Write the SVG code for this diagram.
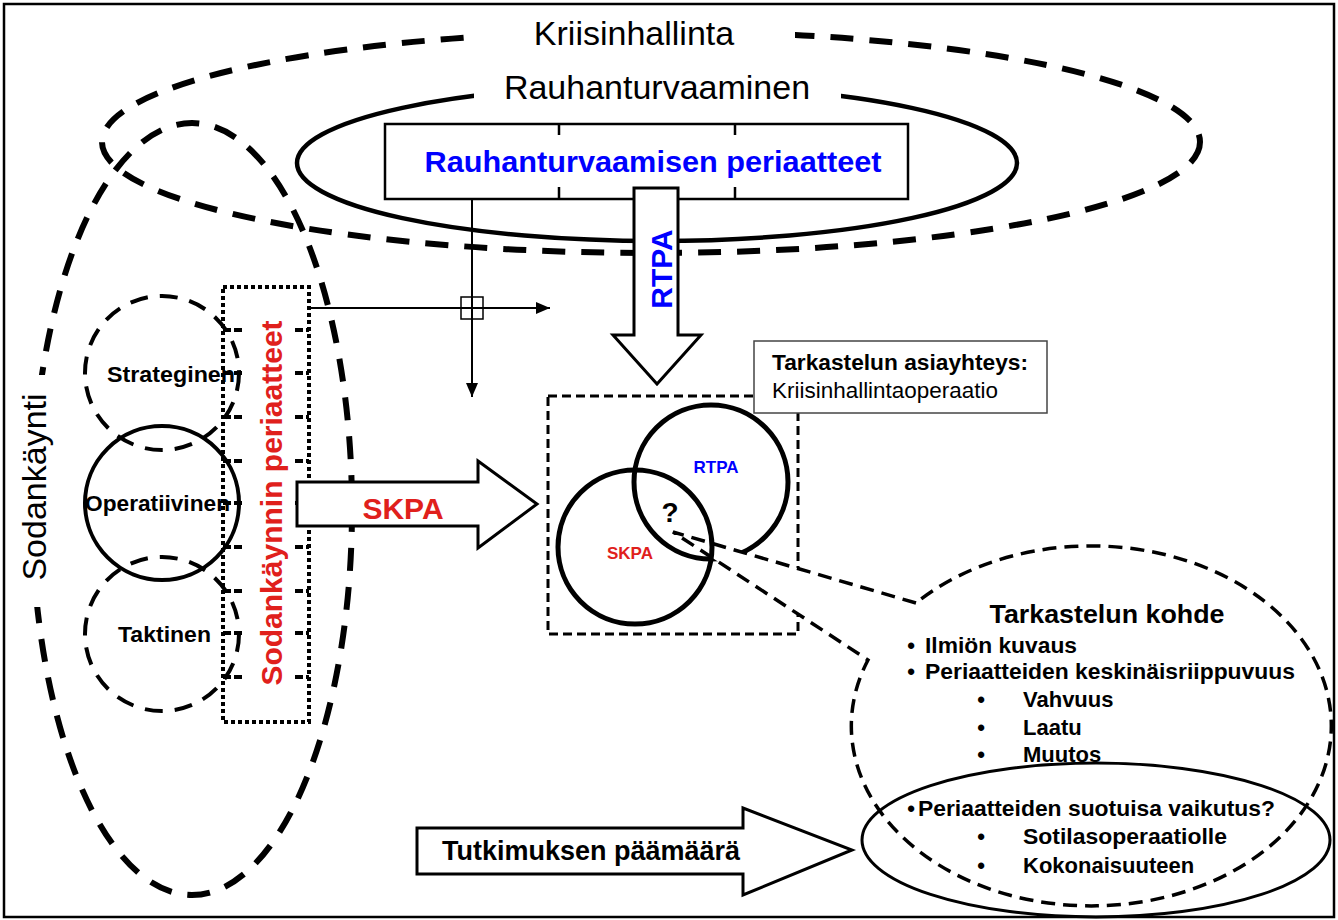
<svg xmlns="http://www.w3.org/2000/svg" width="1338" height="920" viewBox="0 0 1338 920">
<defs>
<style>
.t{font-family:"Liberation Sans",Arial,sans-serif;fill:#000}
.b{font-weight:bold}
.blue{fill:#0000FF}
.red{fill:#E0201C}
.thickdash{fill:none;stroke:#000;stroke-width:6;stroke-dasharray:23 16}
.meddash{fill:none;stroke:#000;stroke-width:4;stroke-dasharray:18 12}
.solid{fill:none;stroke:#000;stroke-width:4.5}
.arrow{fill:#fff;stroke:#000;stroke-width:3;stroke-linejoin:miter}
.thin{fill:none;stroke:#000;stroke-width:2}
.tick{stroke:#000;stroke-width:4;stroke-dasharray:8 3}
</style>
<marker id="ah" markerUnits="userSpaceOnUse" markerWidth="14" markerHeight="12" refX="14" refY="6" orient="auto">
<path d="M0,0 L14,6 L0,12 Z" fill="#000"/>
</marker>
</defs>
<rect x="0" y="0" width="1338" height="920" fill="#fff"/>
<rect x="4" y="4" width="1330" height="913" fill="none" stroke="#000" stroke-width="2.5"/>

<g id="kriisinhallinta">
<ellipse cx="651" cy="142" rx="549" ry="111" class="thickdash"/>
<rect x="472" y="12" width="323" height="42" fill="#fff"/>
<text class="t" x="634" y="45" font-size="34" text-anchor="middle">Kriisinhallinta</text>
</g>

<g id="sodankaynti">
<ellipse cx="192" cy="509" rx="160" ry="386" class="thickdash"/>
<rect x="12" y="375" width="50" height="232" fill="#fff"/>
<text class="t" font-size="34" text-anchor="middle" transform="translate(46,487) rotate(-90)">Sodankäynti</text>
</g>

<g id="rauhanturvaaminen">
<ellipse cx="657" cy="163" rx="360" ry="78" class="solid"/>
<rect x="474" y="68" width="367" height="37" fill="#fff"/>
<text class="t" x="657" y="99" font-size="34" text-anchor="middle">Rauhanturvaaminen</text>
</g>

<g id="rt-periaatteet">
<rect x="385" y="124" width="523" height="75" fill="#fff" stroke="#000" stroke-width="2.5"/>
<path d="M559,124 V135 M735,124 V135 M559,187 V199 M735,187 V199" stroke="#000" stroke-width="2.5"/>
<text class="t b blue" x="653" y="172" font-size="29" text-anchor="middle" textLength="457" lengthAdjust="spacingAndGlyphs">Rauhanturvaamisen periaatteet</text>
</g>

<g id="connectors">
<line x1="310" y1="308" x2="550" y2="308" class="thin" marker-end="url(#ah)"/>
<line x1="472" y1="199" x2="472" y2="397" class="thin" marker-end="url(#ah)"/>
<rect x="461" y="297" width="22" height="22" fill="none" stroke="#000" stroke-width="1.5"/>
</g>

<g id="rtpa-arrow">
<polygon points="634,188 678,188 678,335 701,335 657,384 613,335 634,335" class="arrow"/>
<text class="t b blue" font-size="30" text-anchor="middle" transform="translate(672,269) rotate(-90)">RTPA</text>
</g>

<g id="tasot">
<circle cx="162" cy="373" r="77" class="meddash"/>
<circle cx="162" cy="634" r="77" class="meddash"/>
<circle cx="162" cy="503" r="77" fill="none" stroke="#000" stroke-width="4"/>
<text class="t b" x="107" y="382" font-size="22" textLength="128" lengthAdjust="spacingAndGlyphs">Strateginen</text>
<text class="t b" x="85" y="511" font-size="22" textLength="145" lengthAdjust="spacingAndGlyphs">Operatiivinen</text>
<text class="t b" x="118" y="642" font-size="22" textLength="93" lengthAdjust="spacingAndGlyphs">Taktinen</text>
</g>

<g id="sk-periaatteet">
<rect x="223" y="287" width="86" height="435" fill="none" stroke="#000" stroke-width="4" stroke-dasharray="4 3"/>
<path d="M223,330 H243 M223,373 H243 M223,417 H243 M223,461 H243 M223,503 H243 M223,547 H243 M223,591 H243 M223,633 H243 M223,677 H243" class="tick"/>
<path d="M295,330 H309 M295,373 H309 M295,417 H309 M295,461 H309 M295,503 H309 M295,547 H309 M295,591 H309 M295,633 H309 M295,677 H309" class="tick"/>
<text class="t b red" font-size="30" text-anchor="middle" transform="translate(282,503) rotate(-90)">Sodankäynnin periaatteet</text>
</g>

<g id="skpa-arrow">
<polygon points="297,482 478,482 478,461 537,504 478,548 478,526 297,526" class="arrow"/>
<text class="t b red" x="403" y="519" font-size="30" text-anchor="middle">SKPA</text>
</g>

<g id="tarkastelualue">
<rect x="548" y="396" width="250" height="238" fill="none" stroke="#000" stroke-width="3" stroke-dasharray="9 5"/>
<circle cx="711" cy="482" r="77" fill="none" stroke="#000" stroke-width="5"/>
</g>

<g id="tarkastelun-kohde">
<path d="M916,603 L673,532 L868,660 A240,180 0 1 0 916,603" fill="#fff" stroke="#000" stroke-width="3.5" stroke-dasharray="14 8"/>
<text class="t b" x="1107" y="623" font-size="25" text-anchor="middle" textLength="235" lengthAdjust="spacingAndGlyphs">Tarkastelun kohde</text>
<text class="t b" x="911" y="653" font-size="22" text-anchor="middle">•</text>
<text class="t b" x="925" y="653" font-size="22" textLength="152" lengthAdjust="spacingAndGlyphs">Ilmiön kuvaus</text>
<text class="t b" x="911" y="679" font-size="22" text-anchor="middle">•</text>
<text class="t b" x="925" y="679" font-size="22" textLength="370" lengthAdjust="spacingAndGlyphs">Periaatteiden keskinäisriippuvuus</text>
<text class="t b" x="981" y="707" font-size="22" text-anchor="middle">•</text>
<text class="t b" x="1023" y="707" font-size="22">Vahvuus</text>
<text class="t b" x="981" y="735" font-size="22" text-anchor="middle">•</text>
<text class="t b" x="1023" y="735" font-size="22">Laatu</text>
<text class="t b" x="981" y="762" font-size="22" text-anchor="middle">•</text>
<text class="t b" x="1023" y="762" font-size="22">Muutos</text>
</g>

<g id="venn">
<circle cx="635" cy="547" r="77" fill="none" stroke="#000" stroke-width="5"/>
<text class="t b blue" x="716" y="473" font-size="17" text-anchor="middle">RTPA</text>
<text class="t b red" x="630" y="559" font-size="17" text-anchor="middle">SKPA</text>
<text class="t b" x="670" y="522" font-size="28" text-anchor="middle">?</text>
</g>

<g id="asiayhteys">
<rect x="754" y="341" width="293" height="72" fill="#fff" stroke="#444" stroke-width="1.5"/>
<text class="t b" x="772" y="370" font-size="22" textLength="256" lengthAdjust="spacingAndGlyphs">Tarkastelun asiayhteys:</text>
<text class="t" x="772" y="398" font-size="22" textLength="226" lengthAdjust="spacingAndGlyphs">Kriisinhallintaoperaatio</text>
</g>

<g id="vaikutus">
<ellipse cx="1096" cy="840" rx="234" ry="77" fill="none" stroke="#000" stroke-width="3"/>
<text class="t b" x="911" y="816" font-size="22" text-anchor="middle">•</text>
<text class="t b" x="918" y="816" font-size="22" textLength="357" lengthAdjust="spacingAndGlyphs">Periaatteiden suotuisa vaikutus?</text>
<text class="t b" x="981" y="844" font-size="22" text-anchor="middle">•</text>
<text class="t b" x="1023" y="844" font-size="22" textLength="204" lengthAdjust="spacingAndGlyphs">Sotilasoperaatiolle</text>
<text class="t b" x="981" y="873" font-size="22" text-anchor="middle">•</text>
<text class="t b" x="1023" y="873" font-size="22">Kokonaisuuteen</text>
</g>

<g id="paamaara">
<polygon points="417,828 743,828 743,808 852,850 743,895 743,874 417,874" class="arrow"/>
<text class="t b" x="442" y="860" font-size="27">Tutkimuksen päämäärä</text>
</g>
</svg>
